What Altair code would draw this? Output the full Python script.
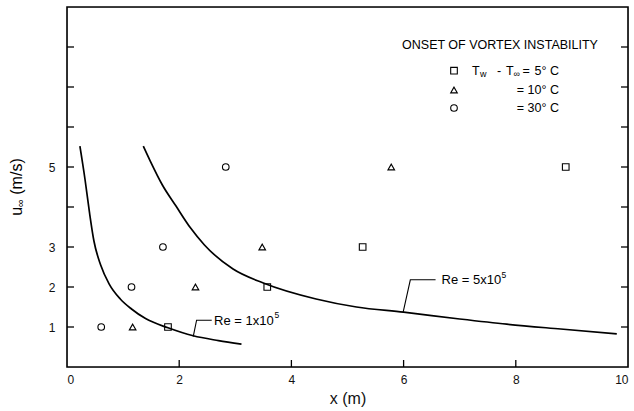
import altair as alt
import pandas as pd

FONT = "Liberation Sans"

# ---------------- data ----------------
u_levels = [1, 2, 3, 5]                      # u_inf (m/s) of the onset points
x_dT5 = [1.80, 3.57, 5.27, 8.89]             # squares   (Tw - Tinf = 5 C)
x_dT10 = [1.17, 2.29, 3.48, 5.78]            # triangles (= 10 C)
x_dT30 = [0.61, 1.15, 1.71, 2.83]            # circles   (= 30 C)

re1_x = [0.23, 0.32, 0.40, 0.48, 0.60, 0.75, 0.95, 1.15, 1.40, 1.80, 2.25, 2.70, 3.11]
re1_u = [5.52, 4.70, 3.87, 3.15, 2.55, 2.08, 1.70, 1.45, 1.21, 0.98, 0.78, 0.66, 0.57]
re5_x = [1.36, 1.48, 1.70, 1.94, 2.20, 2.45, 2.96, 3.50, 4.44, 5.16, 6.00, 7.00, 7.84, 8.80, 9.80]
re5_u = [5.52, 5.16, 4.55, 4.03, 3.48, 3.05, 2.45, 2.10, 1.70, 1.50, 1.37, 1.20, 1.07, 0.95, 0.83]

# leader lines of the curve labels
lead1_x = [2.25, 2.31, 2.58]
lead1_u = [0.76, 1.17, 1.17]
lead5_x = [5.99, 6.12, 6.57]
lead5_u = [1.36, 2.18, 2.18]

x_label_values = [0, 2, 4, 6, 8, 10]
x_inner_ticks = [2, 4, 6, 8]
y_label_values = [1, 2, 3, 5]
y_inner_ticks = [1, 2, 3, 4, 5, 6, 7, 8]

legend_title = "ONSET OF VORTEX INSTABILITY"
re_labels = ["Re = 1x10", "Re = 5x10"]

# ---------------- layout ----------------
W, H = 561, 360
OX, OY = 67, 7  # plot origin inside the 634x411 page

xs = alt.Scale(domain=[0, 10], nice=False, zero=False)
ys = alt.Scale(domain=[0, 9], nice=False, zero=False)

pts = pd.DataFrame({
    "x": x_dT5 + x_dT10 + x_dT30,
    "u": u_levels * 3,
    "series": ["dT5"] * 4 + ["dT10"] * 4 + ["dT30"] * 4,
})

curves = pd.DataFrame({
    "x": re1_x + re5_x,
    "u": re1_u + re5_u,
    "curve": ["re1"] * len(re1_x) + ["re5"] * len(re5_x),
    "order": list(range(len(re1_x))) + list(range(len(re5_x))),
})
leaders = pd.DataFrame({
    "x": lead1_x + lead5_x,
    "u": lead1_u + lead5_u,
    "curve": ["l1"] * 3 + ["l5"] * 3,
    "order": [0, 1, 2, 0, 1, 2],
})

x_axis = alt.Axis(values=x_label_values, format="d", title="x (m)", ticks=False,
                  domain=False, grid=False, labelFontSize=12, labelFont=FONT,
                  labelColor="#111", labelPadding=7, titleFontSize=16, titleFont=FONT,
                  titleFontWeight="normal", titleColor="#111", titlePadding=5)
y_axis = alt.Axis(values=y_label_values, format="d", title=None, ticks=False,
                  domain=False, grid=False, labelFontSize=12, labelFont=FONT,
                  labelColor="#111", labelPadding=12)

points = alt.Chart(pts).mark_point(filled=False, size=44, strokeWidth=1.1, color="black",
                                   opacity=1).encode(
    x=alt.X("x:Q", scale=xs, axis=x_axis),
    y=alt.Y("u:Q", scale=ys, axis=y_axis),
    shape=alt.Shape("series:N",
                    scale=alt.Scale(domain=["dT5", "dT10", "dT30"],
                                    range=["square", "triangle-up", "circle"]),
                    legend=None),
)

curve_lines = alt.Chart(curves).mark_line(color="black", strokeWidth=1.7,
                                          interpolate="monotone").encode(
    x=alt.X("x:Q", scale=xs), y=alt.Y("u:Q", scale=ys),
    detail="curve:N", order="order:Q")

leader_lines = alt.Chart(leaders).mark_line(color="black", strokeWidth=1.1).encode(
    x=alt.X("x:Q", scale=xs), y=alt.Y("u:Q", scale=ys),
    detail="curve:N", order="order:Q")

tick_kw = dict(size=7, thickness=1.3, color="black", opacity=1)
xt = alt.Chart(pd.DataFrame({"x": x_inner_ticks})).mark_tick(
    orient="vertical", **tick_kw).encode(
    x=alt.X("x:Q", scale=xs), y=alt.value(H - 3.5))
yt_left = alt.Chart(pd.DataFrame({"u": y_inner_ticks})).mark_tick(
    orient="horizontal", **tick_kw).encode(
    y=alt.Y("u:Q", scale=ys), x=alt.value(3.5))
yt_right = alt.Chart(pd.DataFrame({"u": y_inner_ticks})).mark_tick(
    orient="horizontal", **tick_kw).encode(
    y=alt.Y("u:Q", scale=ys), x=alt.value(W - 3.5))

frame = alt.Chart(pd.DataFrame({"f": [0]})).mark_rect(
    filled=False, stroke="black", strokeWidth=1.6, fillOpacity=0).encode(
    x=alt.value(0), x2=alt.value(W), y=alt.value(0), y2=alt.value(H))


def label(text, ax, ay, size=12.5, align="left", angle=None):
    kw = dict(align=align, baseline="middle", fontSize=size, font=FONT, color="black")
    if angle is not None:
        kw["angle"] = angle
    return alt.Chart(pd.DataFrame({"t": [text]})).mark_text(**kw).encode(
        text="t:N", x=alt.value(ax - OX), y=alt.value(ay - OY))


def symbol(shape, ax, ay):
    return alt.Chart(pd.DataFrame({"t": [shape]})).mark_point(
        filled=False, size=44, strokeWidth=1.1, color="black", opacity=1).encode(
        shape=alt.value(shape), x=alt.value(ax - OX), y=alt.value(ay - OY))


layers = [frame, curve_lines, leader_lines, xt, yt_left, yt_right, points]

# curve labels
layers += [
    label(re_labels[0], 214, 320.5, size=13),
    label("5", 274.5, 315, size=8.5),
    label(re_labels[1], 441.5, 280, size=13),
    label("5", 501.5, 274.5, size=8.5),
]

# legend block
rows = [70.7, 90, 108]
layers += [
    label(legend_title, 500, 45, size=12.5, align="center"),
    symbol("square", 454, rows[0]),
    symbol("triangle-up", 454, rows[1]),
    symbol("circle", 454, rows[2]),
    label("T", 472, rows[0]),
    label("w", 480, rows[0] + 3, size=9),
    label("-", 497, rows[0]),
    label("T", 506, rows[0]),
    label("\u221e", 513.5, rows[0] + 3, size=9),
    label("=", 522.5, rows[0]),
    label("5\u00b0 C", 559, rows[0], align="right"),
    label("= 10\u00b0 C", 559, rows[1], align="right"),
    label("= 30\u00b0 C", 559, rows[2], align="right"),
]

# y axis title: u with subscript infinity, rotated
layers += [
    label("u", 17, 211.4, size=16, align="center", angle=270),
    label("\u221e", 21, 203, size=11, align="center", angle=270),
    label("(m/s)", 17, 176.5, size=16, align="center", angle=270),
]

chart = alt.layer(*layers).properties(
    width=W, height=H,
    padding={"left": OX, "top": OY, "right": 634 - OX - W, "bottom": 411 - OY - H},
    autosize=alt.AutoSizeParams(type="none"),
).configure_view(stroke=None).configure(font=FONT, background="white")

chart.save("out.html", embed_options={"renderer": "svg", "actions": False})
